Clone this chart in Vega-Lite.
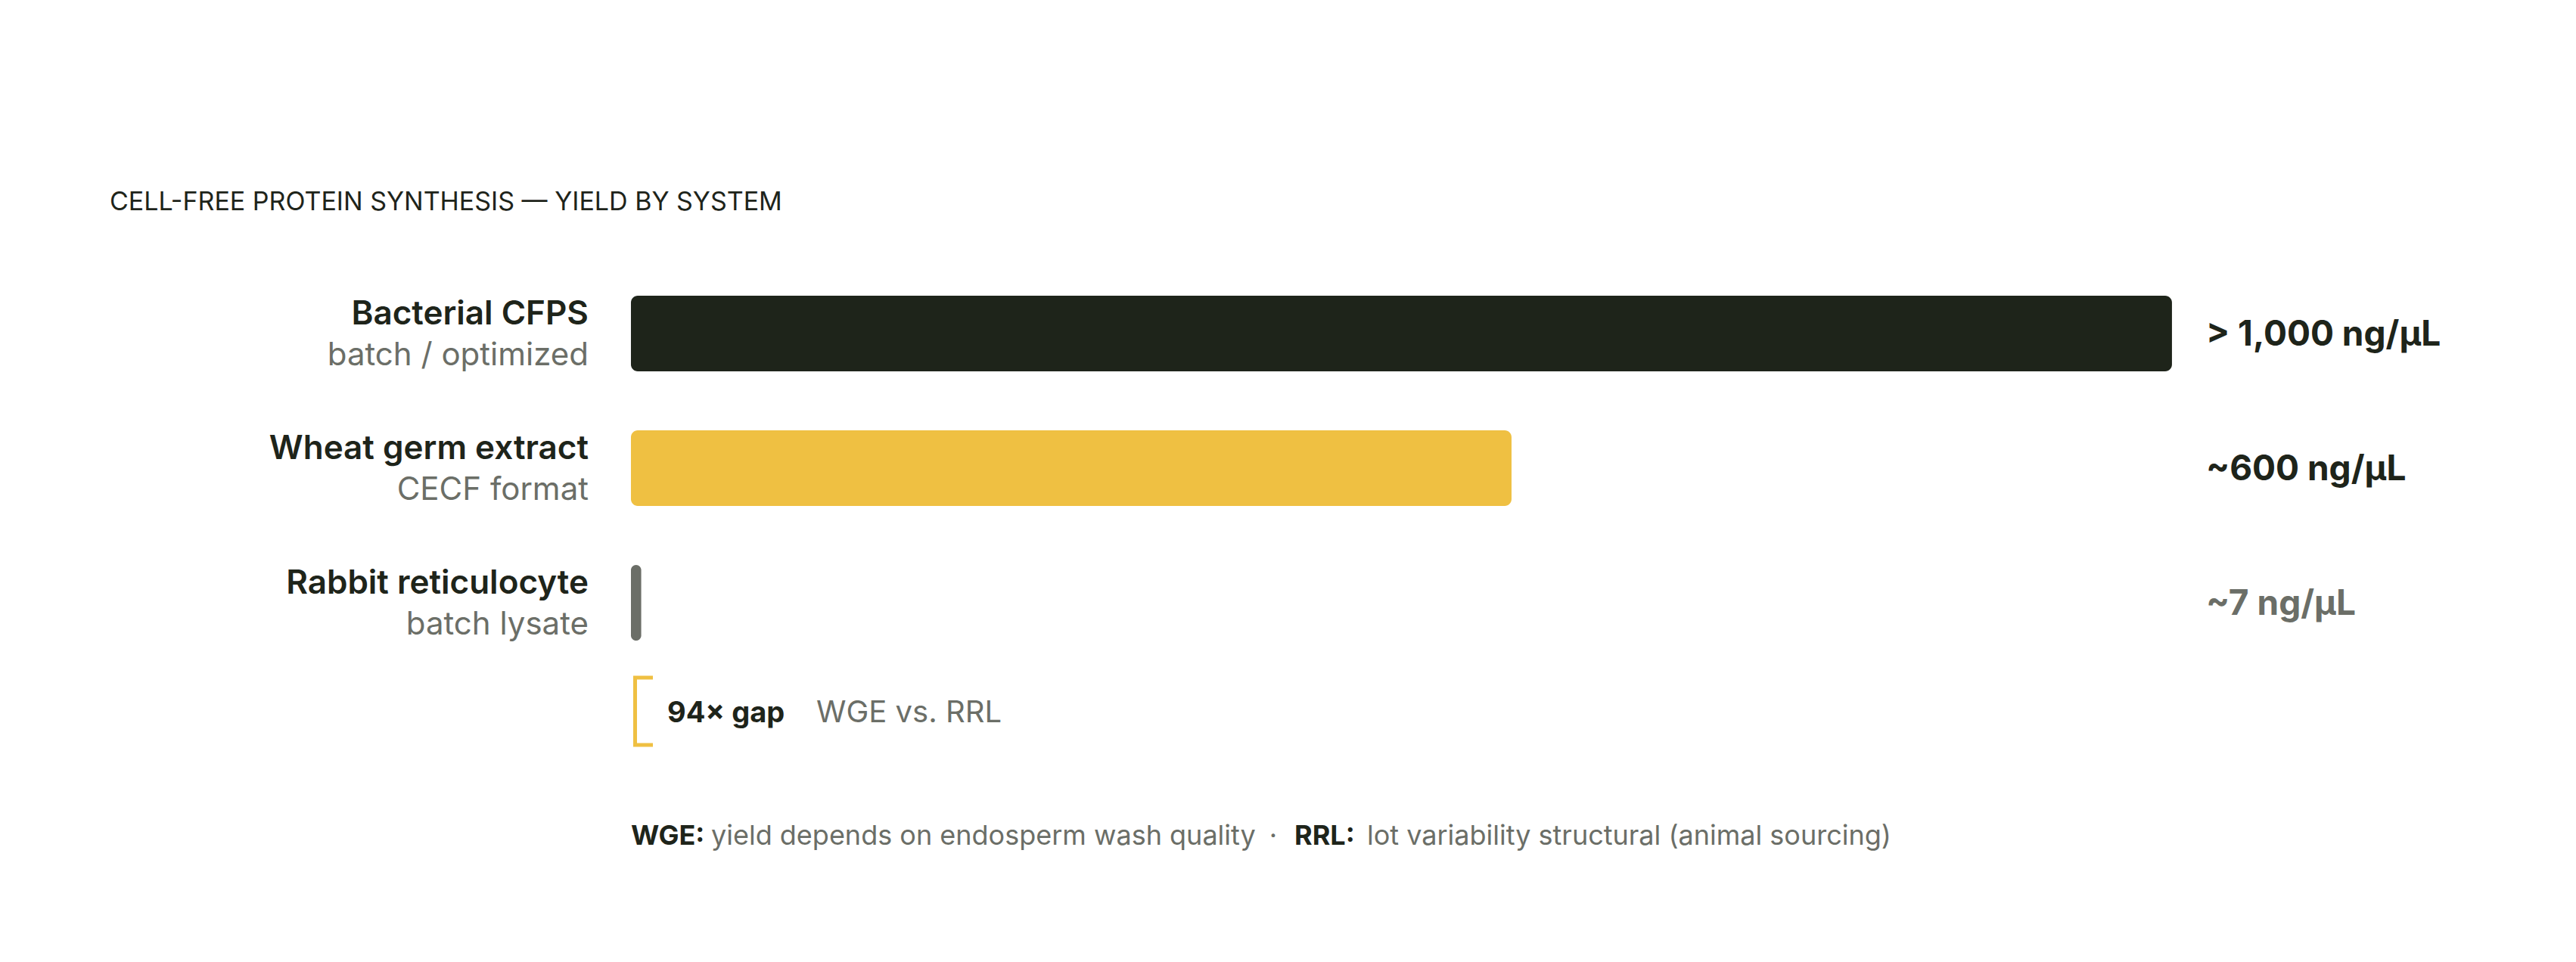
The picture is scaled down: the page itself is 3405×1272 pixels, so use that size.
{
  "$schema": "https://vega.github.io/schema/vega-lite/v6.json",
  "width": 3405,
  "height": 1272,
  "autosize": {"type": "fit", "contains": "padding"},
  "padding": {"left": 0, "right": 0, "top": 251, "bottom": 69},
  "background": "#ffffff",
  "title": {
    "text": "CELL-FREE PROTEIN SYNTHESIS — YIELD BY SYSTEM",
    "anchor": "start",
    "dx": 145,
    "offset": 106,
    "font": "Inter",
    "fontSize": 34,
    "fontWeight": 400,
    "color": "#1e241a"
  },
  "config": {
    "view": {"stroke": null},
    "text": {"font": "Inter"}
  },
  "datasets": {
    "systems": [
      {"system": "Bacterial CFPS", "sub": "batch / optimized", "yield": 1050, "label": "> 1,000 ng/μL"},
      {"system": "Wheat germ extract", "sub": "CECF format", "yield": 600, "label": "~600 ng/μL"},
      {"system": "Rabbit reticulocyte", "sub": "batch lysate", "yield": 7, "label": "~7 ng/μL"}
    ],
    "gap": [
      {"system": "gap", "ratio": "94× gap", "pair": "WGE vs. RRL"}
    ],
    "notes": [
      {"system": "notes", "k1": "WGE:", "t1": "yield depends on endosperm wash quality", "sep": "·", "k2": "RRL:", "t2": "lot variability structural (animal sourcing)"}
    ]
  },
  "encoding": {
    "y": {
      "field": "system",
      "type": "nominal",
      "axis": null,
      "scale": {
        "domain": ["Bacterial CFPS", "Wheat germ extract", "Rabbit reticulocyte", "gap", "notes"],
        "paddingInner": 0.438,
        "paddingOuter": 0
      }
    }
  },
  "layer": [
    {
      "data": {"name": "systems"},
      "mark": {"type": "bar", "cornerRadius": 9},
      "encoding": {
        "x": {
          "field": "yield",
          "type": "quantitative",
          "axis": null,
          "scale": {"domain": [-429.9, 1325.3], "nice": false, "zero": false}
        },
        "x2": {"datum": 0},
        "color": {
          "field": "system",
          "type": "nominal",
          "legend": null,
          "scale": {
            "domain": ["Bacterial CFPS", "Wheat germ extract", "Rabbit reticulocyte"],
            "range": ["#1e241a", "#efc042", "#6b6e67"]
          }
        }
      }
    },
    {
      "data": {"name": "systems"},
      "mark": {"type": "text", "align": "right", "baseline": "alphabetic", "dx": -56, "dy": -12, "fontSize": 44, "fontWeight": 600, "color": "#1e241a"},
      "encoding": {
        "x": {"datum": 0, "type": "quantitative"},
        "text": {"field": "system"}
      }
    },
    {
      "data": {"name": "systems"},
      "mark": {"type": "text", "align": "right", "baseline": "alphabetic", "dx": -56, "dy": 42, "fontSize": 42, "fontWeight": 400, "color": "#6b6e67"},
      "encoding": {
        "x": {"datum": 0, "type": "quantitative"},
        "text": {"field": "sub"}
      }
    },
    {
      "data": {"name": "systems"},
      "mark": {"type": "text", "align": "left", "baseline": "alphabetic", "dx": 45, "dy": 16, "fontSize": 46, "fontWeight": 700},
      "encoding": {
        "x": {"datum": 1050, "type": "quantitative"},
        "text": {"field": "label"},
        "color": {
          "condition": {"test": "datum.system === 'Rabbit reticulocyte'", "value": "#6b6e67"},
          "value": "#1e241a"
        }
      }
    },
    {
      "data": {"name": "gap"},
      "mark": {
        "type": "point",
        "shape": "M 0.58 -1.58 L 0.11 -1.58 L 0.11 0.2 L 0.58 0.2",
        "size": 10000,
        "filled": false,
        "opacity": 1,
        "stroke": "#efc042",
        "strokeWidth": 5,
        "strokeCap": "butt",
        "strokeJoin": "miter"
      },
      "encoding": {
        "x": {"datum": 0, "type": "quantitative"}
      }
    },
    {
      "data": {"name": "gap"},
      "mark": {"type": "text", "align": "left", "baseline": "alphabetic", "dx": 48, "dy": -20, "fontSize": 38, "fontWeight": 700, "color": "#1e241a"},
      "encoding": {
        "x": {"datum": 0, "type": "quantitative"},
        "text": {"field": "ratio"}
      }
    },
    {
      "data": {"name": "gap"},
      "mark": {"type": "text", "align": "left", "baseline": "alphabetic", "dx": 245, "dy": -20, "fontSize": 40, "fontWeight": 400, "color": "#6b6e67"},
      "encoding": {
        "x": {"datum": 0, "type": "quantitative"},
        "text": {"field": "pair"}
      }
    },
    {
      "data": {"name": "notes"},
      "mark": {"type": "text", "align": "left", "baseline": "alphabetic", "dx": 0, "dy": -36, "fontSize": 36, "fontWeight": 700, "color": "#1e241a"},
      "encoding": {
        "x": {"datum": 0, "type": "quantitative"},
        "text": {"field": "k1"}
      }
    },
    {
      "data": {"name": "notes"},
      "mark": {"type": "text", "align": "left", "baseline": "alphabetic", "dx": 106, "dy": -36, "fontSize": 36, "fontWeight": 400, "color": "#6b6e67"},
      "encoding": {
        "x": {"datum": 0, "type": "quantitative"},
        "text": {"field": "t1"}
      }
    },
    {
      "data": {"name": "notes"},
      "mark": {"type": "text", "align": "center", "baseline": "alphabetic", "dx": 849, "dy": -36, "fontSize": 36, "fontWeight": 400, "color": "#6b6e67"},
      "encoding": {
        "x": {"datum": 0, "type": "quantitative"},
        "text": {"field": "sep"}
      }
    },
    {
      "data": {"name": "notes"},
      "mark": {"type": "text", "align": "left", "baseline": "alphabetic", "dx": 877, "dy": -36, "fontSize": 36, "fontWeight": 700, "color": "#1e241a"},
      "encoding": {
        "x": {"datum": 0, "type": "quantitative"},
        "text": {"field": "k2"}
      }
    },
    {
      "data": {"name": "notes"},
      "mark": {"type": "text", "align": "left", "baseline": "alphabetic", "dx": 973, "dy": -36, "fontSize": 36, "fontWeight": 400, "color": "#6b6e67"},
      "encoding": {
        "x": {"datum": 0, "type": "quantitative"},
        "text": {"field": "t2"}
      }
    }
  ]
}
